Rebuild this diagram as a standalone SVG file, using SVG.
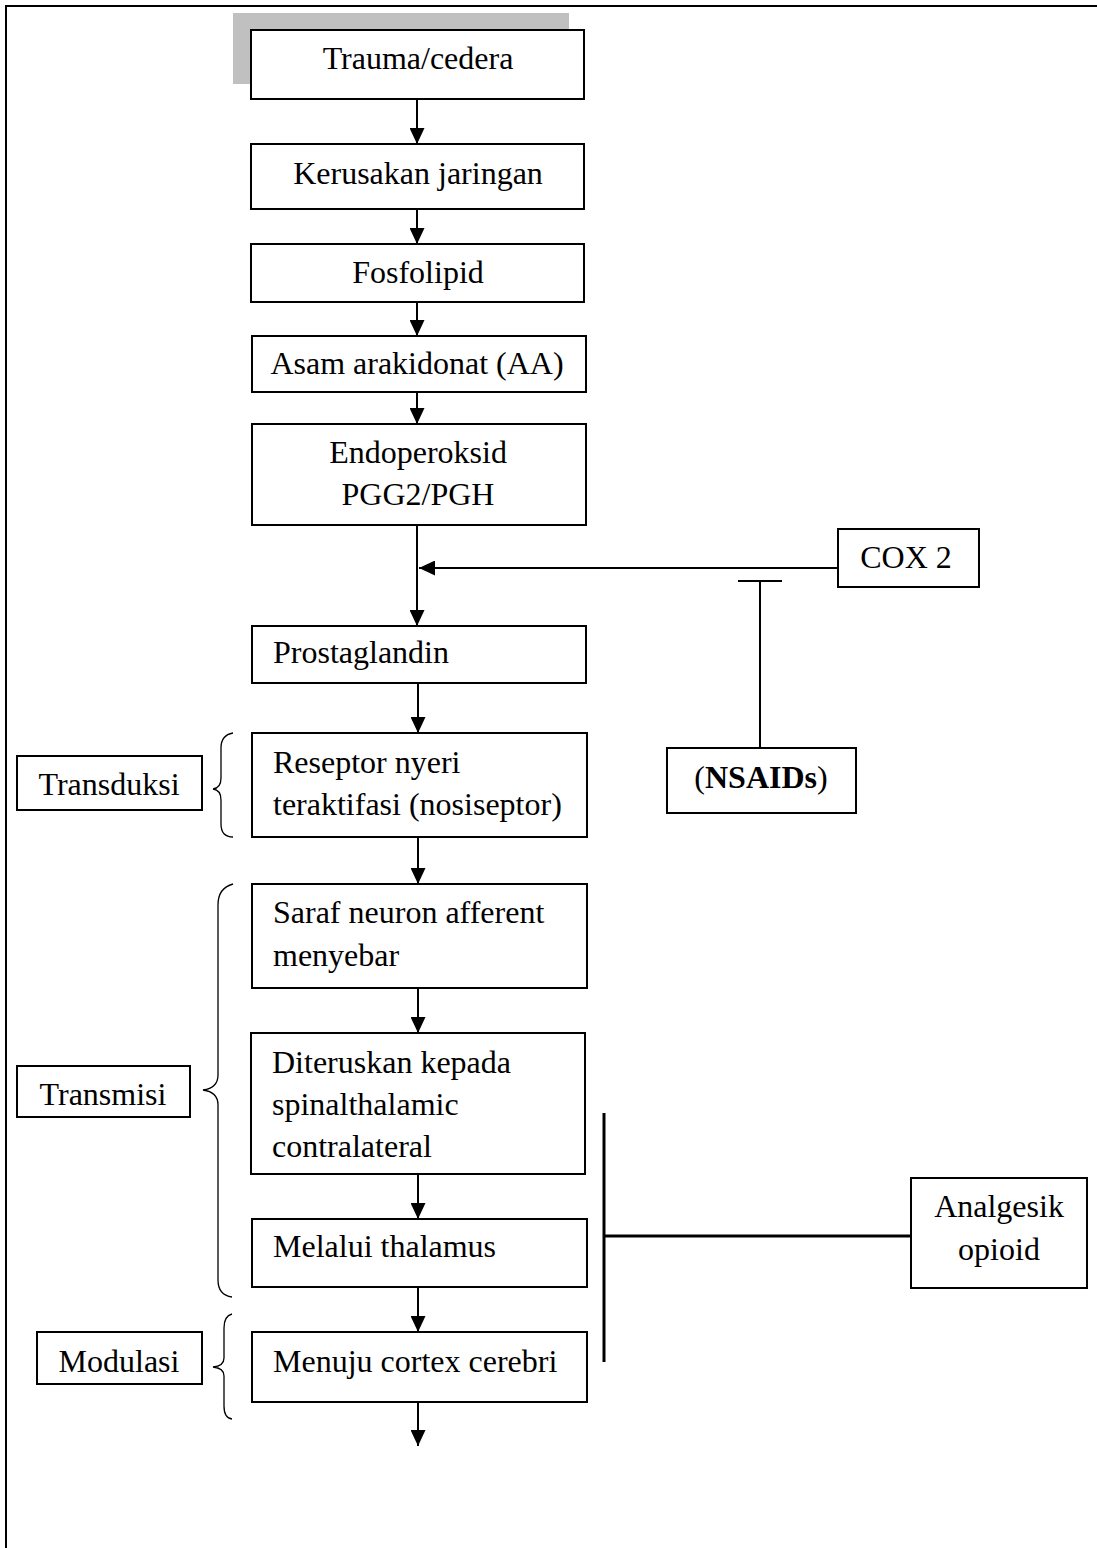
<svg xmlns="http://www.w3.org/2000/svg" width="1097" height="1548" viewBox="0 0 1097 1548">
<style>
.box{fill:#fff;stroke:#000;stroke-width:2}
.t{font-family:"Liberation Serif","Times New Roman",serif;font-size:32px;fill:#000}
.c{text-anchor:middle}
.ln{stroke:#000;stroke-width:2;fill:none}
.thick{stroke:#000;stroke-width:3;fill:none}
.brace{stroke:#000;stroke-width:1.3;fill:none}
</style>
<defs>
<marker id="ah" markerUnits="userSpaceOnUse" markerWidth="17" markerHeight="15" refX="16" refY="7.5" orient="auto">
<path d="M0,0 L16,7.5 L0,15 Z" fill="#000"/>
</marker>
</defs>
<rect width="1097" height="1548" fill="#fff"/>
<g id="frame">
<line x1="5" y1="6" x2="1097" y2="6" class="ln"/>
<line x1="6" y1="5" x2="6" y2="1548" class="ln"/>
</g>
<g id="connectors">
<line x1="417" y1="99" x2="417" y2="144" class="ln" marker-end="url(#ah)"/>
<line x1="417" y1="209" x2="417" y2="244" class="ln" marker-end="url(#ah)"/>
<line x1="417" y1="302" x2="417" y2="336" class="ln" marker-end="url(#ah)"/>
<line x1="417" y1="392" x2="417" y2="424" class="ln" marker-end="url(#ah)"/>
<line x1="417" y1="525" x2="417" y2="626" class="ln" marker-end="url(#ah)"/>
<line x1="838" y1="568" x2="419" y2="568" class="ln" marker-end="url(#ah)"/>
<line x1="760" y1="748" x2="760" y2="582" class="ln"/>
<line x1="738" y1="581" x2="782" y2="581" class="ln" stroke-width="1.5"/>
<line x1="418" y1="683" x2="418" y2="733" class="ln" marker-end="url(#ah)"/>
<line x1="418" y1="837" x2="418" y2="884" class="ln" marker-end="url(#ah)"/>
<line x1="418" y1="988" x2="418" y2="1033" class="ln" marker-end="url(#ah)"/>
<line x1="418" y1="1174" x2="418" y2="1219" class="ln" marker-end="url(#ah)"/>
<line x1="418" y1="1287" x2="418" y2="1332" class="ln" marker-end="url(#ah)"/>
<line x1="418" y1="1402" x2="418" y2="1446" class="ln" marker-end="url(#ah)"/>
<line x1="604" y1="1113" x2="604" y2="1362" class="thick"/>
<line x1="604" y1="1236" x2="911" y2="1236" class="thick"/>
<path class="brace" d="M233,733 Q221,735 221,748 L221,778 Q221,788 213,789 Q221,790 221,800 L221,824 Q221,837 233,837"/>
<path class="brace" d="M233,884 Q218,888 218,905 L218,1075 Q218,1088 203,1090 Q218,1092 218,1105 L218,1280 Q218,1295 232,1297"/>
<path class="brace" d="M232,1314 Q224,1316 224,1328 L224,1358 Q224,1366 213,1367 Q224,1368 224,1376 L224,1406 Q224,1418 232,1419"/>
</g>
<g id="n-trauma">
<rect x="233" y="13" width="336" height="71" fill="#c0c0c0"/>
<rect x="251" y="30" width="333" height="69" class="box"/>
<text x="418" y="69" class="t c">Trauma/cedera</text>
</g>
<g id="n-kerusakan">
<rect x="251" y="144" width="333" height="65" class="box"/>
<text x="418" y="184" class="t c">Kerusakan jaringan</text>
</g>
<g id="n-fosfolipid">
<rect x="251" y="244" width="333" height="58" class="box"/>
<text x="418" y="283" class="t c">Fosfolipid</text>
</g>
<g id="n-asam">
<rect x="252" y="336" width="334" height="56" class="box"/>
<text x="417" y="374" class="t c">Asam arakidonat (AA)</text>
</g>
<g id="n-endoperoksid">
<rect x="252" y="424" width="334" height="101" class="box"/>
<text x="418" y="463" class="t c">Endoperoksid</text>
<text x="418" y="505" class="t c">PGG2/PGH</text>
</g>
<g id="n-cox2">
<rect x="838" y="529" width="141" height="58" class="box"/>
<text x="906" y="568" class="t c">COX 2</text>
</g>
<g id="n-prostaglandin">
<rect x="252" y="626" width="334" height="57" class="box"/>
<text x="273" y="663" class="t">Prostaglandin</text>
</g>
<g id="n-nsaids">
<rect x="667" y="748" width="189" height="65" class="box"/>
<text x="761" y="788" class="t c">(<tspan font-weight="bold">NSAIDs</tspan>)</text>
</g>
<g id="n-reseptor">
<rect x="252" y="733" width="335" height="104" class="box"/>
<text x="273" y="773" class="t">Reseptor nyeri</text>
<text x="273" y="815" class="t">teraktifasi (nosiseptor)</text>
</g>
<g id="n-transduksi">
<rect x="17" y="756" width="185" height="54" class="box"/>
<text x="109" y="795" class="t c">Transduksi</text>
</g>
<g id="n-saraf">
<rect x="252" y="884" width="335" height="104" class="box"/>
<text x="273" y="923" class="t">Saraf neuron afferent</text>
<text x="273" y="966" class="t">menyebar</text>
</g>
<g id="n-diteruskan">
<rect x="251" y="1033" width="334" height="141" class="box"/>
<text x="272" y="1073" class="t">Diteruskan kepada</text>
<text x="272" y="1115" class="t">spinalthalamic</text>
<text x="272" y="1157" class="t">contralateral</text>
</g>
<g id="n-transmisi">
<rect x="17" y="1066" width="173" height="51" class="box"/>
<text x="103" y="1105" class="t c">Transmisi</text>
</g>
<g id="n-melalui">
<rect x="252" y="1219" width="335" height="68" class="box"/>
<text x="273" y="1257" class="t">Melalui thalamus</text>
</g>
<g id="n-menuju">
<rect x="252" y="1332" width="335" height="70" class="box"/>
<text x="273" y="1372" class="t">Menuju cortex cerebri</text>
</g>
<g id="n-modulasi">
<rect x="37" y="1332" width="165" height="52" class="box"/>
<text x="119" y="1372" class="t c">Modulasi</text>
</g>
<g id="n-analgesik">
<rect x="911" y="1178" width="176" height="110" class="box"/>
<text x="999" y="1217" class="t c">Analgesik</text>
<text x="999" y="1260" class="t c">opioid</text>
</g>
</svg>
